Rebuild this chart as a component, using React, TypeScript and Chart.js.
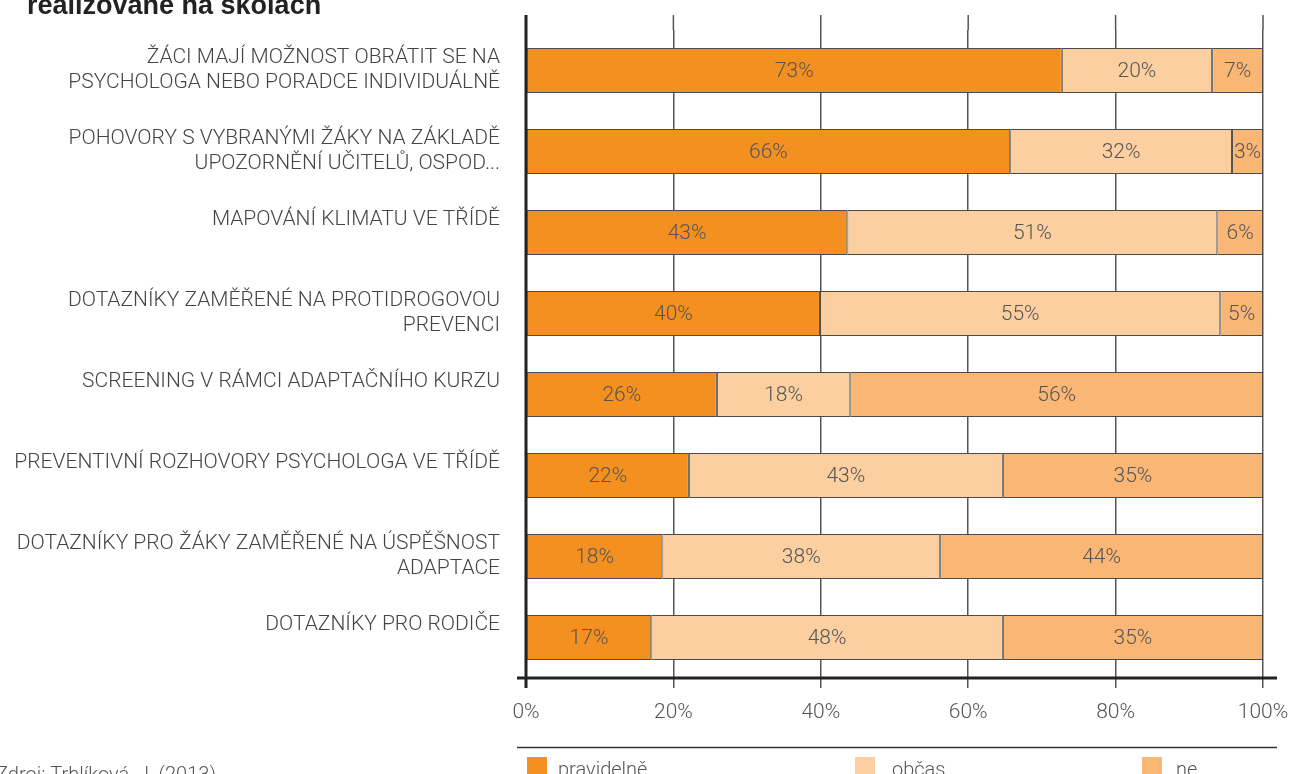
import React, { useEffect, useRef } from "react";
import { Chart, registerables } from "chart.js";

Chart.register(...registerables);

const categories: string[][] = [
  ["ŽÁCI MAJÍ MOŽNOST OBRÁTIT SE NA", "PSYCHOLOGA NEBO PORADCE INDIVIDUÁLNĚ"],
  ["POHOVORY S VYBRANÝMI ŽÁKY NA ZÁKLADĚ", "UPOZORNĚNÍ UČITELŮ, OSPOD..."],
  ["MAPOVÁNÍ KLIMATU VE TŘÍDĚ", ""],
  ["DOTAZNÍKY ZAMĚŘENÉ NA PROTIDROGOVOU", "PREVENCI"],
  ["SCREENING V RÁMCI ADAPTAČNÍHO KURZU", ""],
  ["PREVENTIVNÍ ROZHOVORY PSYCHOLOGA VE TŘÍDĚ", ""],
  ["DOTAZNÍKY PRO ŽÁKY ZAMĚŘENÉ NA ÚSPĚŠNOST", "ADAPTACE"],
  ["DOTAZNÍKY PRO RODIČE", ""],
];

const seriesNames = ["pravidelně", "občas", "ne"];
const seriesColors = ["#F39020", "#FBCFA0", "#FAB675"];

const pravidelne = [72.7, 65.7, 43.6, 39.9, 25.9, 22.1, 18.5, 17.0];
const obcas = [20.4, 30.1, 50.2, 54.3, 18.1, 42.6, 37.7, 47.7];
const ne = [6.9, 4.2, 6.2, 5.8, 56.0, 35.3, 43.8, 35.3];

const pravidelneLabels = ["73%", "66%", "43%", "40%", "26%", "22%", "18%", "17%"];
const obcasLabels = ["20%", "32%", "51%", "55%", "18%", "43%", "38%", "48%"];
const neLabels = ["7%", "3%", "6%", "5%", "56%", "35%", "44%", "35%"];

const xTicks = [0, 20, 40, 60, 80, 100];

const titleText = "realizované na školách";
const sourceText = "Zdroj: Trhlíková, J. (2013)";

const FONT = "Roboto, 'Liberation Sans', sans-serif";

export default function App() {
  const ref = useRef<HTMLCanvasElement | null>(null);

  useEffect(() => {
    const canvas = ref.current;
    if (!canvas) return;
    const valueLabels = [pravidelneLabels, obcasLabels, neLabels];

    const extras = {
      id: "extras",
      beforeDatasetsDraw(chart: any) {
        const ctx = chart.ctx;
        const xs = chart.scales.x;
        const top = chart.chartArea.top;
        ctx.save();
        ctx.strokeStyle = "#555";
        ctx.lineWidth = 1.5;
        xTicks.forEach((v) => {
          const px = xs.getPixelForValue(v);
          ctx.beginPath();
          ctx.moveTo(px, 15);
          ctx.lineTo(px, top);
          ctx.stroke();
        });
        ctx.restore();
      },
      afterDatasetsDraw(chart: any) {
        const ctx = chart.ctx;
        const xs = chart.scales.x;
        const area = chart.chartArea;
        ctx.save();
        ctx.font = `300 21px ${FONT}`;
        ctx.fillStyle = "#555";
        ctx.textAlign = "center";
        ctx.textBaseline = "middle";
        chart.data.datasets.forEach((ds: any, di: number) => {
          const meta = chart.getDatasetMeta(di);
          meta.data.forEach((el: any, i: number) => {
            const p = el.getCenterPoint();
            ctx.fillText(valueLabels[di][i], p.x, p.y + 1);
          });
        });
        ctx.strokeStyle = "#222";
        ctx.lineWidth = 3;
        const x0 = xs.getPixelForValue(0);
        ctx.beginPath();
        ctx.moveTo(x0, 15);
        ctx.lineTo(x0, area.bottom + 10);
        ctx.stroke();
        ctx.beginPath();
        ctx.moveTo(x0 - 9, area.bottom);
        ctx.lineTo(xs.getPixelForValue(100) + 14, area.bottom);
        ctx.stroke();
        ctx.restore();
      },
      afterDraw(chart: any) {
        const ctx = chart.ctx;
        ctx.save();
        ctx.font = `bold 27px 'Liberation Sans', Arial, sans-serif`;
        ctx.fillStyle = "#222";
        ctx.textAlign = "left";
        ctx.textBaseline = "alphabetic";
        ctx.fillText(titleText, 27, 14);
        ctx.font = `300 20px ${FONT}`;
        ctx.fillStyle = "#555";
        ctx.fillText(sourceText, -4, 781);
        ctx.strokeStyle = "#333";
        ctx.lineWidth = 1.5;
        ctx.beginPath();
        ctx.moveTo(517, 747.5);
        ctx.lineTo(1277, 747.5);
        ctx.stroke();
        const boxX = [527, 855, 1142];
        const textX = [558, 892, 1176];
        seriesNames.forEach((n, i) => {
          ctx.fillStyle = seriesColors[i];
          ctx.fillRect(boxX[i], 757, 20, 20);
          ctx.fillStyle = "#555";
          ctx.font = `300 20px ${FONT}`;
          ctx.fillText(n, textX[i], 776);
        });
        ctx.restore();
      },
    };

    const chart = new Chart(canvas, {
      type: "bar",
      data: {
        labels: categories,
        datasets: [pravidelne, obcas, ne].map((d, i) => ({
          label: seriesNames[i],
          data: d,
          backgroundColor: seriesColors[i],
          borderColor: "#4a4a4a",
          borderWidth: 1,
          borderSkipped: false,
          barPercentage: 0.556,
          categoryPercentage: 1,
        })),
      },
      options: {
        indexAxis: "y",
        animation: false,
        responsive: false,
        devicePixelRatio: 1,
        layout: { padding: { top: 30, right: 32, bottom: 36, left: 0 } },
        plugins: {
          legend: { display: false },
          tooltip: { enabled: false },
          title: { display: false },
        },
        scales: {
          x: {
            stacked: true,
            min: 0,
            max: 100,
            afterBuildTicks: (s: any) => {
              s.ticks = xTicks.map((v) => ({ value: v }));
            },
            afterFit: (s: any) => {
              s.height = 60;
              s.paddingLeft = 0;
              s.paddingRight = 0;
            },
            ticks: {
              callback: (v: any) => `${v}%`,
              font: { family: FONT, size: 21, weight: 300 as any },
              color: "#555",
              padding: 12,
              maxRotation: 0,
            },
            grid: {
              color: "#555",
              lineWidth: 1.5,
              tickLength: 10,
              drawTicks: true,
            },
            border: { display: false },
          },
          y: {
            stacked: true,
            afterFit: (s: any) => {
              s.width = 526;
              s.paddingTop = 0;
              s.paddingBottom = 0;
            },
            ticks: {
              font: { family: FONT, size: 21, weight: 300 as any, lineHeight: 1.17 },
              color: "#444",
              padding: 26,
              autoSkip: false,
            },
            grid: { display: false, drawTicks: false },
            border: { display: false },
          },
        },
      },
      plugins: [extras],
    });
    return () => chart.destroy();
  }, []);

  return (
    <div style={{ position: "absolute", left: 0, top: 0, width: 1295, height: 774, overflow: "hidden", background: "#fff" }}>
      <canvas ref={ref} width={1295} height={774} style={{ display: "block" }} />
    </div>
  );
}
